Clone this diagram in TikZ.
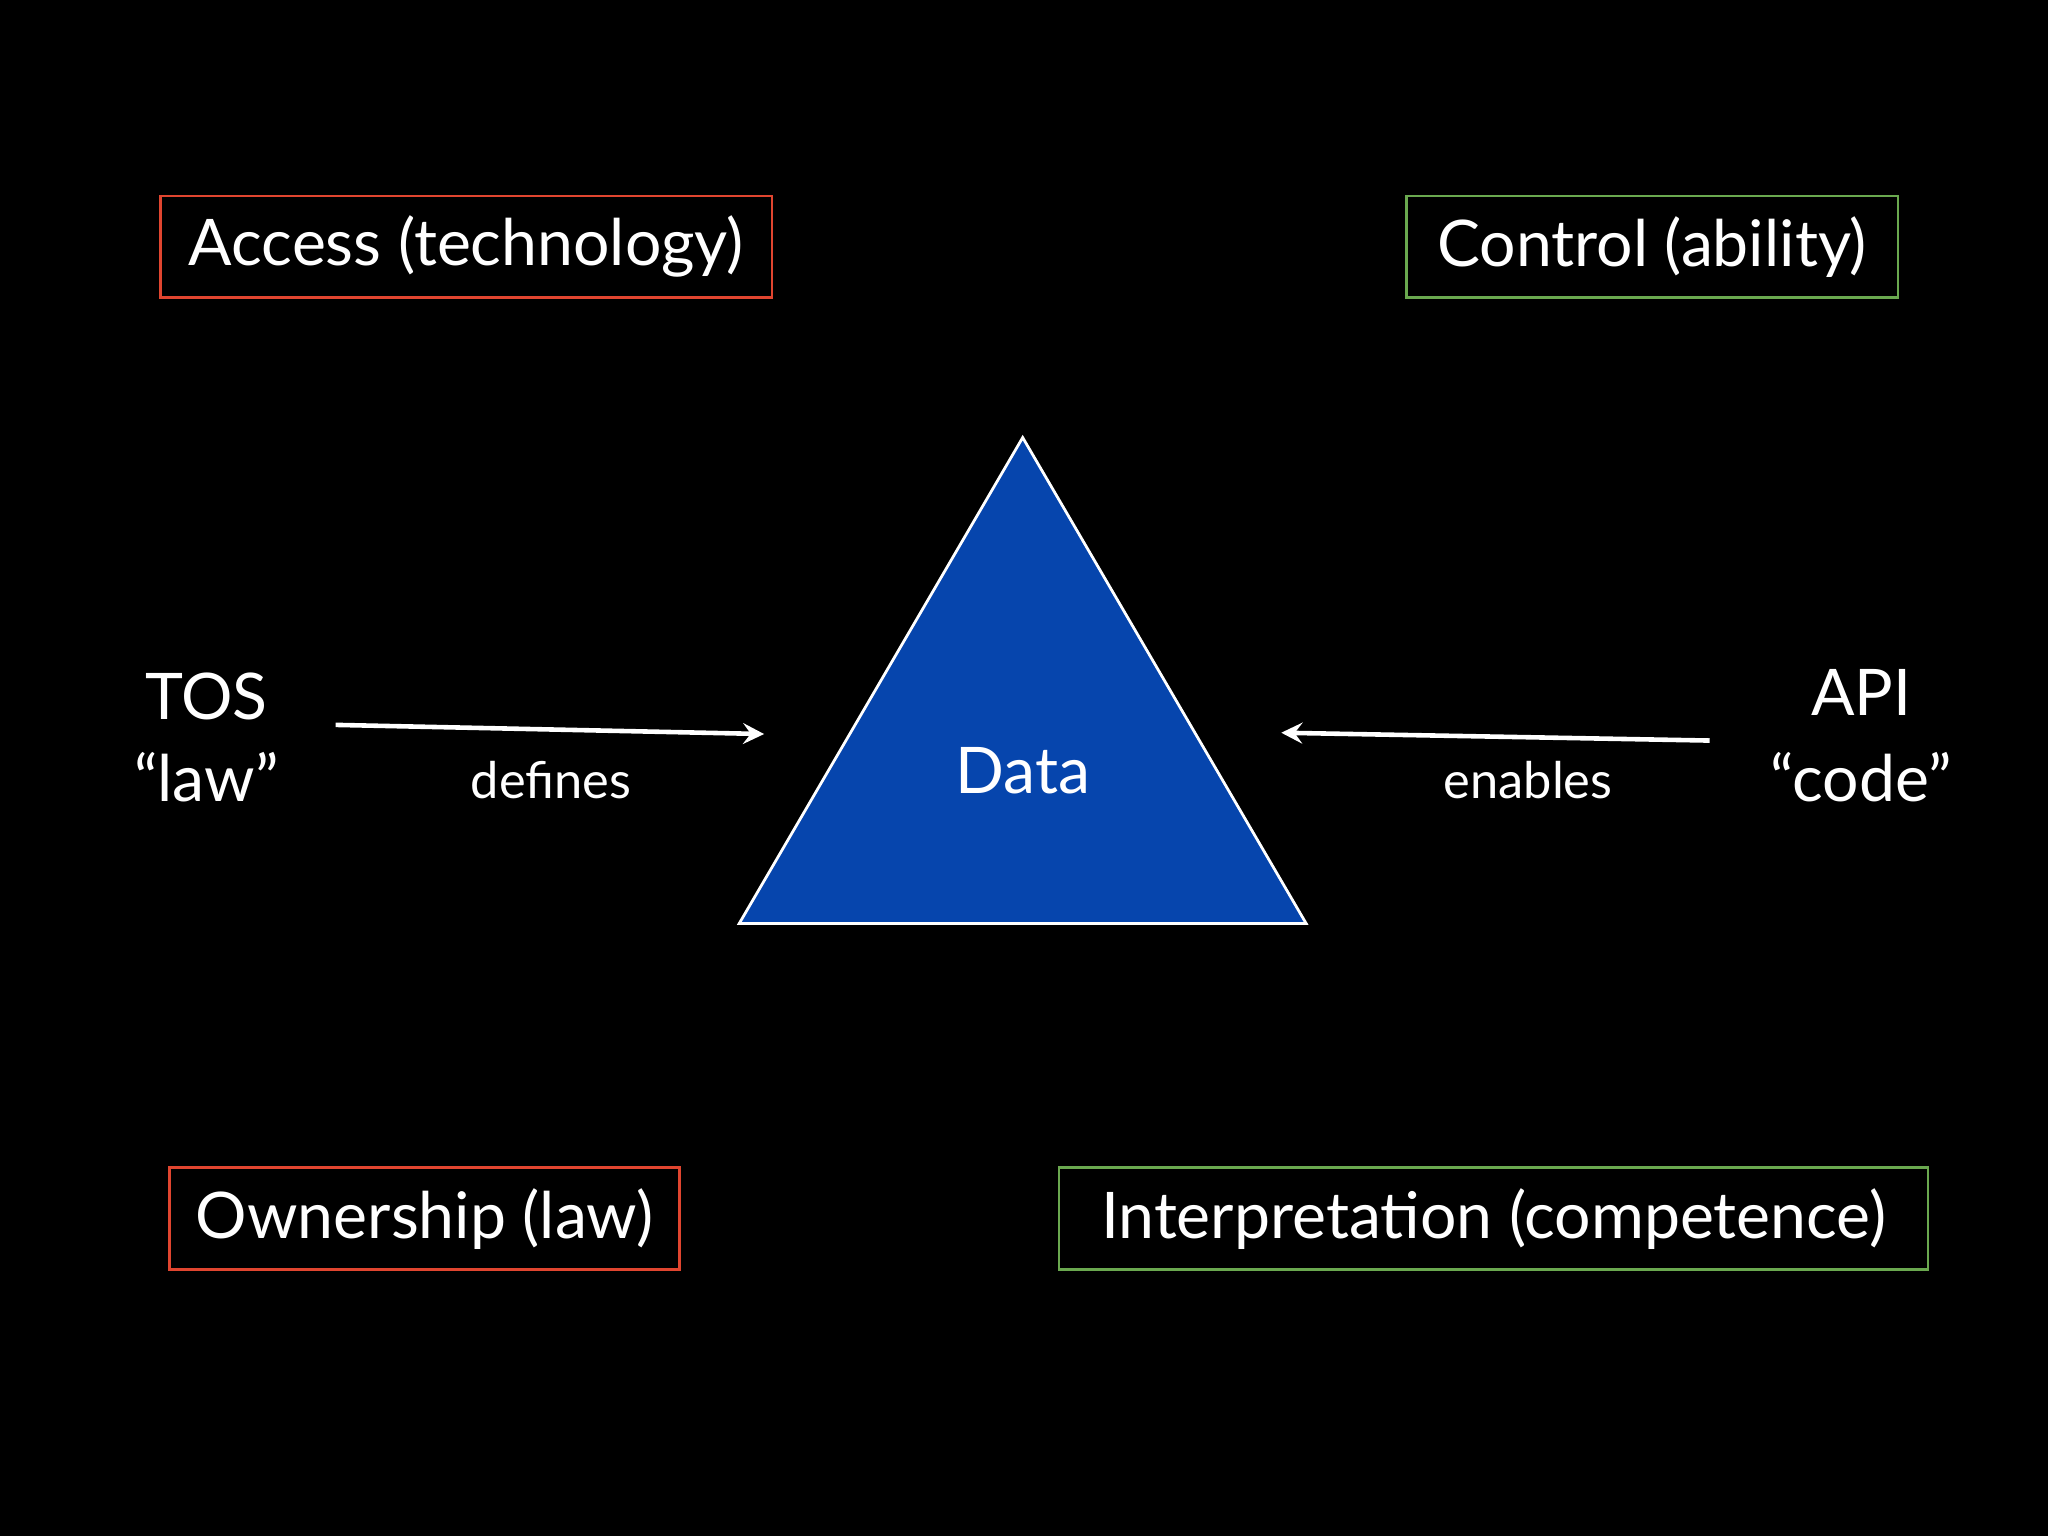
\documentclass[tikz,border=0pt]{standalone}
\usepackage{fontspec}
\setmainfont{Lato}
\begin{document}
\begin{tikzpicture}[x=0.01cm,y=-0.01cm,
  lbl/.style={text=white,font=\fontsize{14}{16}\selectfont,inner sep=0},
  small/.style={text=white,font=\fontsize{11}{13}\selectfont,inner sep=0},
  bx/.style={draw=#1,line width=0.6pt,minimum height=0.78cm,inner sep=0}]
\definecolor{bred}{HTML}{E0452F}
\definecolor{bgreen}{HTML}{6AA84F}
\definecolor{tblue}{HTML}{0645AD}
\fill[black] (0,0) rectangle (1568,1176);
\useasboundingbox (0,0) rectangle (1568,1176);
\node[bx=bred,minimum width=4.68cm] (acc) at (357,189) {};
\node[lbl] at (acc) {Access (technology)};
\node[bx=bgreen,minimum width=3.76cm] (ctl) at (1265,189) {};
\node[lbl] at (ctl) {Control (ability)};
\node[bx=bred,minimum width=3.90cm] (own) at (325,933) {};
\node[lbl] at (own) {Ownership (law)};
\node[bx=bgreen,minimum width=6.65cm] (int) at (1143.5,933) {};
\node[lbl] at (int) {Interpretation (competence)};
\draw[white,fill=tblue,line width=0.6pt] (783,335) -- (1000,707) -- (566,707) -- cycle;
\node[lbl] (data) at (783,590) {Data};
\node[lbl] (tos) at (158,533) {TOS};
\node[lbl] (law) at (158,595) {“law”};
\node[lbl] (api) at (1425,530) {API};
\node[lbl] (code) at (1425,595) {“code”};
\coordinate (a1) at (257,555); \coordinate (a2) at (585,562);
\coordinate (b1) at (1309,567); \coordinate (b2) at (981,561);
\draw[white,line width=1pt,-stealth] (a1) -- (a2);
\draw[white,line width=1pt,-stealth] (b1) -- (b2);
\node[small] (def) at (422,597) {defines};
\node[small] (ena) at (1170,597) {enables};
\end{tikzpicture}
\end{document}
